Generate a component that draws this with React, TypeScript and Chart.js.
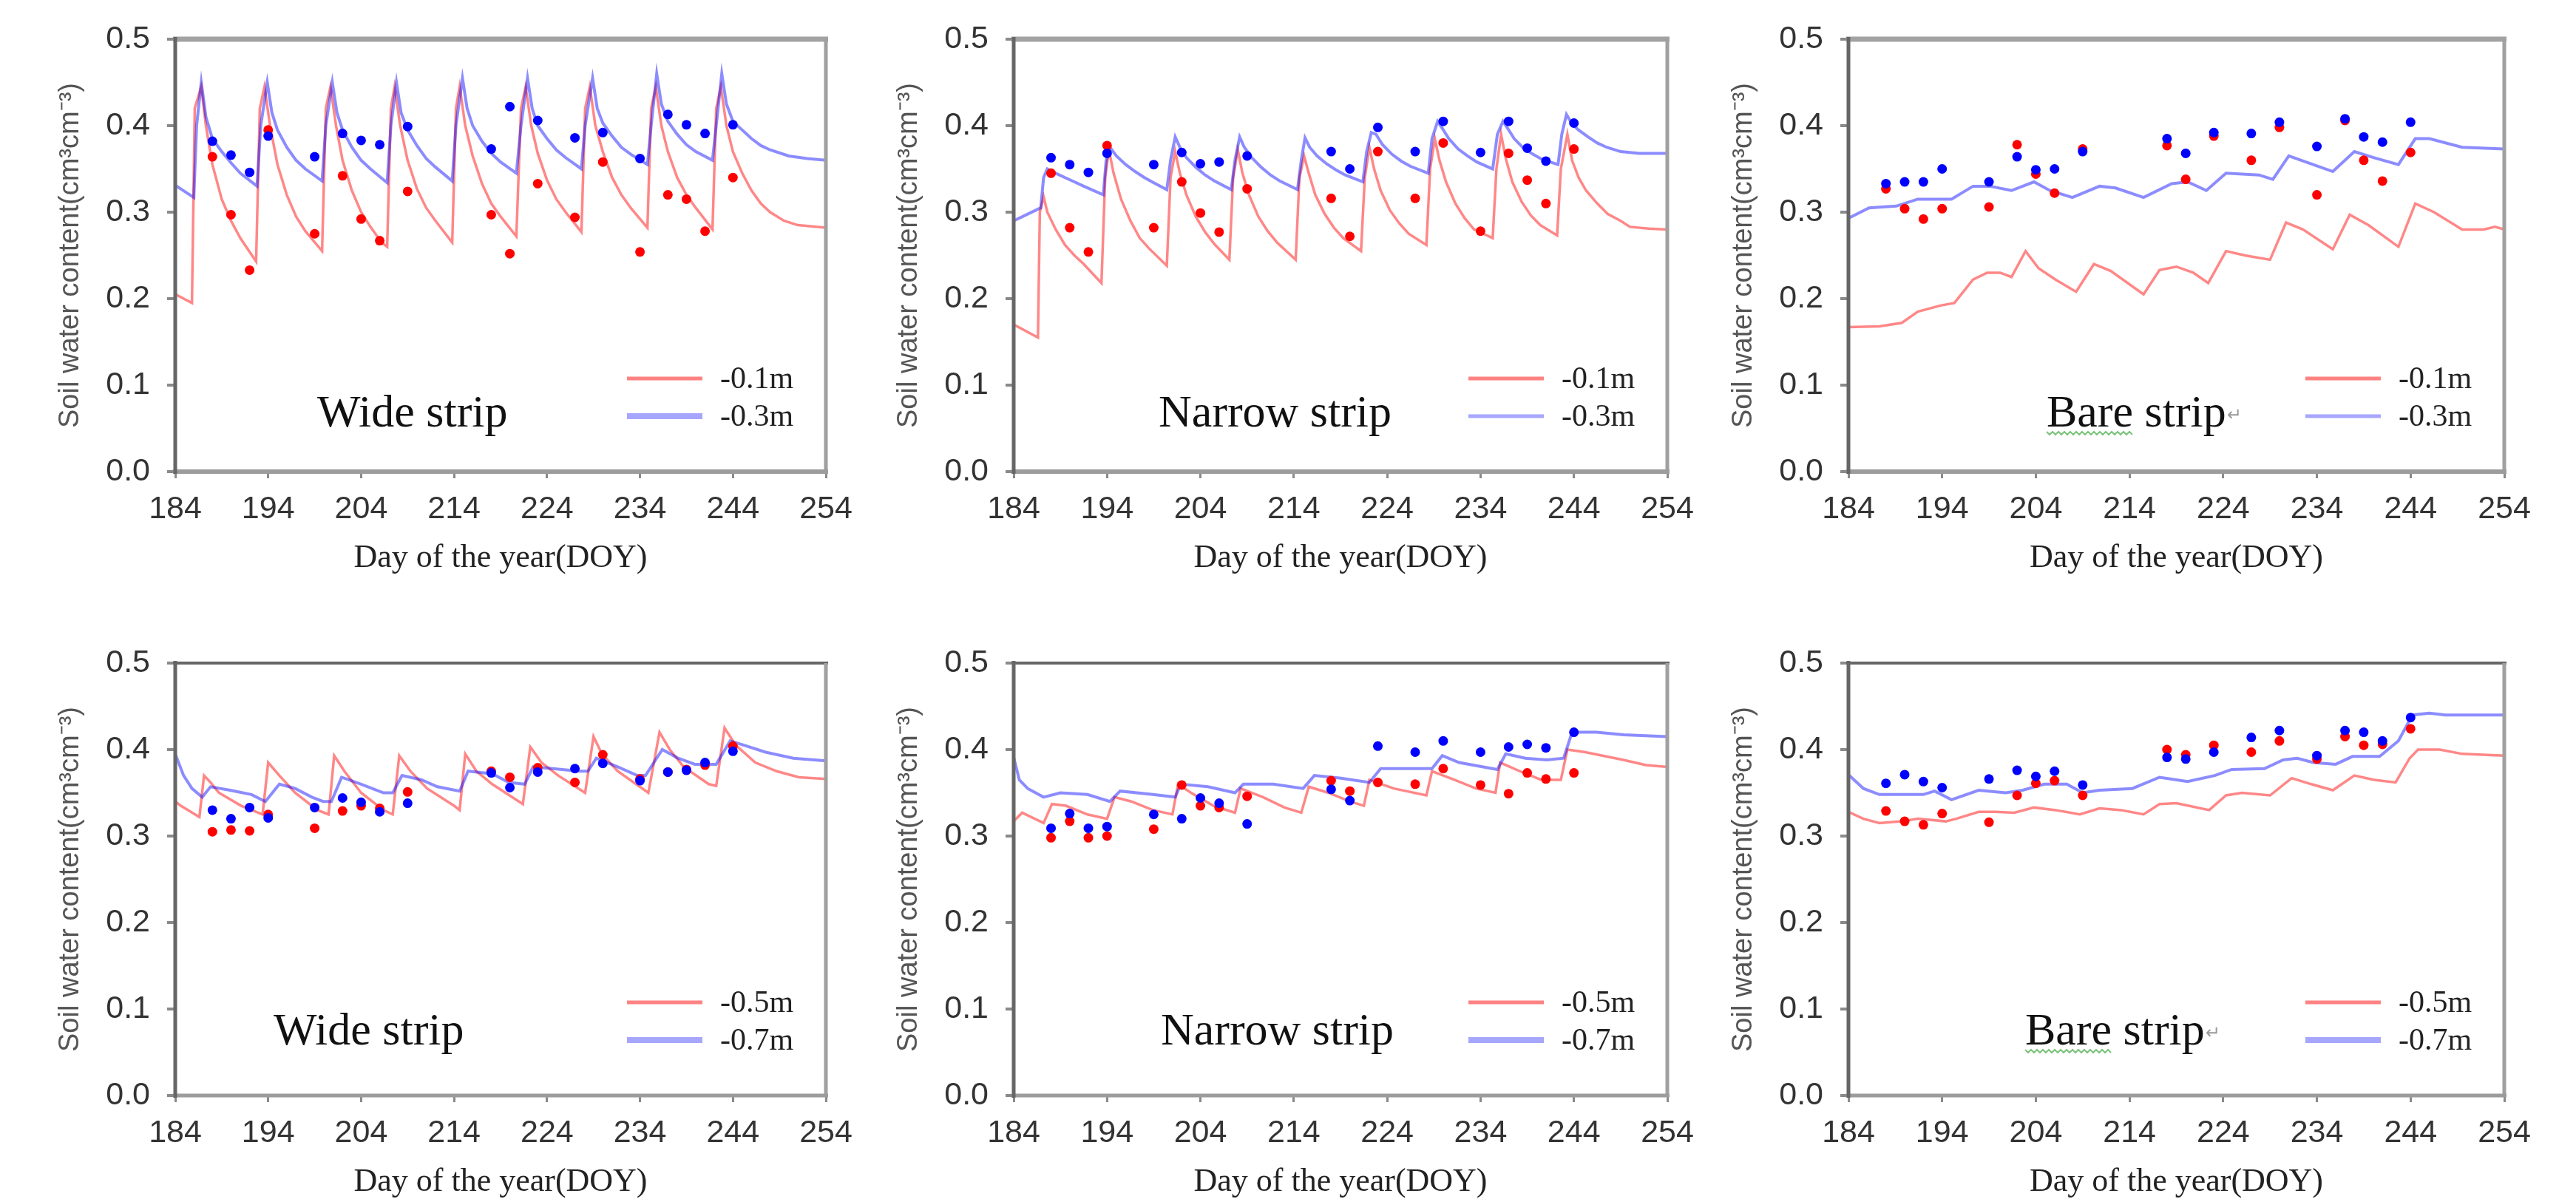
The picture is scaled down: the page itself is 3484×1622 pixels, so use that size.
import React, { useEffect, useRef } from 'react';
import { Chart, registerables } from 'chart.js';

Chart.register(...registerables);
Chart.defaults.font.family = '"Liberation Sans", Arial, sans-serif';

type Pair = [number, number];

// ---------- axis ticks ----------
const X_TICKS = [184, 194, 204, 214, 224, 234, 244, 254];
const Y_TICKS = [0, 0.1, 0.2, 0.3, 0.4, 0.5];

// ---------- observation days ----------
const OBS_DAYS = [188, 190, 192, 194, 199, 202, 204, 206, 209, 218, 220, 223, 227, 230, 234, 237, 239, 241, 244];

// ---------- Wide strip, -0.1 m / -0.3 m ----------
const wideSim01: Pair[] = [
  [184, 0.205], [185.8, 0.195], [186.1, 0.42], [186.8, 0.445], [187.3, 0.40], [188, 0.355], [189, 0.315], [190, 0.29], [191, 0.27], [192.7, 0.243],
  [193.1, 0.42], [193.6, 0.445], [194.2, 0.40], [195, 0.355], [196, 0.32], [197, 0.295], [198, 0.278], [199.8, 0.255],
  [200.2, 0.42], [200.7, 0.445], [201.3, 0.40], [202, 0.36], [203, 0.325], [204, 0.30], [205, 0.283], [206.2, 0.265], [206.8, 0.26],
  [207.2, 0.42], [207.6, 0.445], [208.2, 0.40], [209, 0.36], [210, 0.327], [211, 0.305], [212, 0.29], [213.8, 0.265],
  [214.2, 0.42], [214.6, 0.445], [215.2, 0.40], [216, 0.365], [217, 0.333], [218, 0.31], [219, 0.295], [220.7, 0.272],
  [221.2, 0.42], [221.7, 0.445], [222.3, 0.40], [223, 0.368], [224, 0.337], [225, 0.315], [226, 0.30], [227.7, 0.277],
  [228.1, 0.42], [228.6, 0.445], [229.2, 0.40], [230, 0.37], [231, 0.34], [232, 0.32], [233, 0.305], [234.8, 0.282],
  [235.2, 0.42], [235.7, 0.445], [236.3, 0.40], [237, 0.37], [238, 0.34], [239, 0.32], [240, 0.305], [241.8, 0.28],
  [242.2, 0.42], [242.7, 0.445], [243.3, 0.40], [244, 0.37], [245, 0.345], [246, 0.325], [247, 0.31], [248, 0.30], [249.5, 0.29], [251, 0.285], [254, 0.282],
];
const wideSim03: Pair[] = [
  [184, 0.331], [186, 0.317], [186.3, 0.40], [186.8, 0.45], [187.3, 0.41], [188, 0.385], [189, 0.37], [190, 0.357], [191, 0.345], [192.8, 0.33],
  [193.2, 0.40], [193.9, 0.45], [194.4, 0.415], [195, 0.395], [196, 0.375], [197, 0.36], [198, 0.35], [199.8, 0.336],
  [200.2, 0.40], [200.9, 0.45], [201.4, 0.415], [202, 0.395], [203, 0.375], [204, 0.36], [205, 0.35], [206.8, 0.334],
  [207.2, 0.40], [207.8, 0.45], [208.3, 0.415], [209, 0.395], [210, 0.377], [211, 0.362], [212, 0.352], [213.8, 0.336],
  [214.2, 0.40], [214.9, 0.455], [215.4, 0.42], [216, 0.40], [217, 0.382], [218, 0.368], [219, 0.358], [220.7, 0.345],
  [221.2, 0.40], [221.9, 0.455], [222.4, 0.42], [223, 0.40], [224, 0.385], [225, 0.372], [226, 0.363], [227.7, 0.35],
  [228.1, 0.40], [228.9, 0.455], [229.4, 0.42], [230, 0.403], [231, 0.388], [232, 0.375], [233, 0.367], [234.8, 0.355],
  [235.2, 0.40], [235.8, 0.46], [236.3, 0.425], [237, 0.405], [238, 0.39], [239, 0.378], [240, 0.37], [241.8, 0.36],
  [242.2, 0.40], [242.8, 0.46], [243.3, 0.425], [244, 0.405], [245, 0.395], [246, 0.385], [247, 0.377], [248, 0.372], [250, 0.365], [252, 0.362], [254, 0.36],
];
const wideObs01 = [0.364, 0.297, 0.233, 0.395, 0.275, 0.342, 0.292, 0.267, 0.324, 0.297, 0.252, 0.333, 0.294, 0.358, 0.254, 0.32, 0.315, 0.278, 0.34];
const wideObs03 = [0.382, 0.366, 0.346, 0.388, 0.364, 0.391, 0.383, 0.378, 0.399, 0.373, 0.422, 0.406, 0.386, 0.392, 0.362, 0.413, 0.401, 0.391, 0.401];

// ---------- Narrow strip, -0.1 m / -0.3 m ----------
const narrowSim01: Pair[] = [
  [184, 0.17], [186.6, 0.155], [186.8, 0.30], [187.2, 0.318], [187.6, 0.30], [188.5, 0.28], [189.5, 0.262], [190.5, 0.25], [191.5, 0.24], [193.4, 0.218],
  [193.8, 0.34], [194.2, 0.372], [194.7, 0.345], [195.5, 0.315], [196.5, 0.29], [197.5, 0.27], [198.5, 0.258], [200.4, 0.238],
  [200.8, 0.34], [201.3, 0.37], [201.8, 0.345], [202.5, 0.32], [203.5, 0.295], [204.5, 0.277], [205.5, 0.263], [207.1, 0.245],
  [207.5, 0.34], [208, 0.372], [208.5, 0.345], [209.2, 0.32], [210.2, 0.295], [211.2, 0.278], [212.2, 0.265], [214.2, 0.245],
  [214.6, 0.34], [215.1, 0.365], [215.6, 0.345], [216.3, 0.32], [217.3, 0.298], [218.3, 0.282], [219.3, 0.27], [221.2, 0.255],
  [221.6, 0.34], [222.1, 0.375], [222.6, 0.35], [223.3, 0.325], [224.3, 0.302], [225.3, 0.287], [226.3, 0.275], [228.2, 0.262],
  [228.6, 0.35], [229.1, 0.385], [229.6, 0.36], [230.3, 0.335], [231.3, 0.31], [232.3, 0.293], [233.3, 0.28], [235.3, 0.27],
  [235.7, 0.35], [236.2, 0.39], [236.7, 0.362], [237.4, 0.335], [238.4, 0.312], [239.4, 0.296], [240.4, 0.285], [242.2, 0.273],
  [242.6, 0.35], [243.3, 0.39], [243.8, 0.36], [244.5, 0.34], [245.3, 0.325], [246.5, 0.31], [247.6, 0.298], [249, 0.29], [250, 0.283], [252, 0.281], [254, 0.28],
];
const narrowSim03: Pair[] = [
  [184, 0.29], [186.9, 0.305], [187.2, 0.34], [187.6, 0.35], [188.5, 0.345], [189.5, 0.34], [190.5, 0.335], [191.5, 0.33], [193.6, 0.32],
  [193.9, 0.36], [194.3, 0.375], [195, 0.365], [196, 0.355], [197, 0.347], [198, 0.34], [199, 0.334], [200.4, 0.326],
  [200.8, 0.36], [201.3, 0.387], [201.8, 0.375], [202.5, 0.363], [203.5, 0.352], [204.5, 0.343], [205.5, 0.336], [207.3, 0.326],
  [207.7, 0.36], [208.2, 0.387], [208.7, 0.375], [209.5, 0.363], [210.5, 0.352], [211.5, 0.343], [212.5, 0.336], [214.4, 0.326],
  [214.8, 0.36], [215.2, 0.386], [215.7, 0.375], [216.5, 0.365], [217.5, 0.356], [218.5, 0.349], [219.5, 0.343], [221.4, 0.335],
  [221.8, 0.37], [222.3, 0.392], [222.8, 0.39], [223.5, 0.378], [224.5, 0.367], [225.5, 0.359], [226.5, 0.353], [228.4, 0.345],
  [228.8, 0.385], [229.4, 0.405], [229.9, 0.397], [230.6, 0.385], [231.6, 0.373], [232.6, 0.365], [233.6, 0.358], [235.3, 0.35],
  [235.8, 0.39], [236.4, 0.405], [236.9, 0.397], [237.6, 0.385], [238.6, 0.374], [239.6, 0.367], [240.6, 0.361], [242.3, 0.355],
  [242.7, 0.39], [243.2, 0.413], [243.8, 0.402], [244.5, 0.395], [245.5, 0.387], [246.5, 0.38], [247.5, 0.375], [249, 0.37], [251, 0.368], [254, 0.368],
];
const narrowObs01 = [0.345, 0.282, 0.254, 0.377, 0.282, 0.335, 0.299, 0.277, 0.327, 0.316, 0.272, 0.37, 0.316, 0.38, 0.278, 0.368, 0.337, 0.31, 0.373];
const narrowObs03 = [0.363, 0.355, 0.346, 0.368, 0.355, 0.369, 0.356, 0.358, 0.365, 0.37, 0.35, 0.398, 0.37, 0.405, 0.369, 0.405, 0.374, 0.359, 0.403];

// ---------- Bare strip, -0.1 m / -0.3 m ----------
const bareSim01: Pair[] = [
  [184, 0.167], [187.3, 0.168], [189.7, 0.172], [191.4, 0.185], [193.8, 0.192], [195.3, 0.195], [197.3, 0.222], [198.8, 0.23], [200.2, 0.23],
  [201.4, 0.225], [202.9, 0.255], [204.3, 0.235], [206.1, 0.222], [208.3, 0.208], [210.2, 0.24], [212, 0.232], [215.5, 0.205], [217.2, 0.233],
  [219, 0.237], [220.8, 0.23], [222.4, 0.218], [224.3, 0.255], [226.3, 0.25], [229, 0.245], [230.7, 0.288], [232.5, 0.28], [235.7, 0.257],
  [237.5, 0.297], [239.5, 0.285], [242.7, 0.26], [244.5, 0.31], [246.5, 0.30], [249.5, 0.28], [251.8, 0.28], [253, 0.283], [254, 0.28],
];
const bareSim03: Pair[] = [
  [184, 0.293], [186.2, 0.305], [189.1, 0.307], [191.4, 0.315], [195, 0.315], [197.3, 0.33], [199.1, 0.33], [201.4, 0.325], [203.8, 0.335],
  [205.5, 0.325], [207.9, 0.317], [210.8, 0.33], [212.5, 0.328], [215.5, 0.317], [218.5, 0.333], [220.2, 0.335], [222.2, 0.325], [224.3, 0.345],
  [227.8, 0.343], [229.3, 0.338], [231, 0.365], [233.1, 0.357], [235.7, 0.347], [238, 0.37], [240.1, 0.363], [242.7, 0.355], [244.5, 0.385],
  [246, 0.385], [249.5, 0.375], [254, 0.373],
];
const bareObs01 = [0.327, 0.304, 0.292, 0.304, 0.306, 0.378, 0.344, 0.322, 0.373, 0.377, 0.338, 0.388, 0.36, 0.398, 0.32, 0.406, 0.36, 0.336, 0.369];
const bareObs03 = [0.333, 0.335, 0.335, 0.35, 0.335, 0.364, 0.349, 0.35, 0.37, 0.385, 0.368, 0.392, 0.391, 0.404, 0.376, 0.408, 0.387, 0.381, 0.404];

// ---------- Wide strip, -0.5 m / -0.7 m ----------
const wideSim05: Pair[] = [
  [184, 0.34], [184.6, 0.335], [186.6, 0.322], [187.1, 0.37], [187.8, 0.362], [188.7, 0.35], [191.1, 0.335], [193.4, 0.325], [194, 0.385],
  [195.2, 0.37], [196.9, 0.35], [199.3, 0.33], [200.5, 0.325], [201.1, 0.393], [202.2, 0.375], [204, 0.35], [206.4, 0.33], [207.4, 0.325],
  [208.1, 0.393], [209.3, 0.375], [211.1, 0.355], [214, 0.335], [214.6, 0.33], [215.2, 0.395], [216.4, 0.375], [218.1, 0.36], [221.4, 0.337],
  [222.2, 0.403], [223.4, 0.385], [225.2, 0.37], [228.1, 0.35], [229, 0.415], [229.9, 0.395], [231.6, 0.375], [234.9, 0.35], [236.1, 0.42],
  [237.2, 0.40], [238.7, 0.38], [241.4, 0.36], [242.2, 0.358], [243.1, 0.425], [244.3, 0.405], [246.4, 0.385], [248.7, 0.375], [251.1, 0.368], [254, 0.366],
];
const wideSim07: Pair[] = [
  [184, 0.395], [184.9, 0.37], [185.8, 0.355], [186.9, 0.345], [187.8, 0.357], [189.9, 0.353], [192.2, 0.348], [193.7, 0.34], [195.2, 0.36],
  [196.9, 0.355], [198.7, 0.345], [199.9, 0.34], [200.8, 0.34], [201.9, 0.368], [204, 0.36], [206.4, 0.35], [207.4, 0.35], [208.4, 0.37],
  [210.5, 0.365], [212.2, 0.357], [214.6, 0.352], [215.5, 0.375], [218.1, 0.372], [219.9, 0.362], [221.6, 0.36], [222.5, 0.38], [224.6, 0.378],
  [227.5, 0.375], [228.4, 0.375], [229.3, 0.39], [231.6, 0.38], [233.7, 0.37], [234.6, 0.37], [236.4, 0.40], [238.1, 0.39], [239.9, 0.383],
  [242.2, 0.383], [243.7, 0.41], [245.2, 0.405], [247.5, 0.397], [250.5, 0.39], [254, 0.387],
];
const wideObs05 = [0.305, 0.307, 0.306, 0.325, 0.309, 0.329, 0.335, 0.332, 0.351, 0.375, 0.368, 0.379, 0.362, 0.394, 0.366, 0.374, 0.377, 0.382, 0.404];
const wideObs07 = [0.33, 0.32, 0.333, 0.321, 0.333, 0.344, 0.339, 0.328, 0.338, 0.373, 0.356, 0.374, 0.378, 0.384, 0.364, 0.374, 0.376, 0.385, 0.398];

// ---------- Narrow strip, -0.5 m / -0.7 m ----------
const narrowSim05: Pair[] = [
  [184, 0.317], [184.9, 0.327], [187.2, 0.315], [188.1, 0.337], [189.6, 0.335], [191.9, 0.325], [194, 0.32], [194.8, 0.345], [196.6, 0.34],
  [198.9, 0.33], [201, 0.325], [201.6, 0.36], [203, 0.35], [205.4, 0.335], [207.7, 0.327], [208.3, 0.355], [210.7, 0.345], [213, 0.333],
  [214.8, 0.327], [215.6, 0.357], [217.7, 0.35], [220, 0.34], [221.5, 0.335], [222.1, 0.365], [224.7, 0.355], [228.2, 0.347], [228.8, 0.375],
  [231.2, 0.365], [233.5, 0.355], [235.6, 0.35], [236.1, 0.385], [238.2, 0.375], [240.5, 0.365], [242.6, 0.365], [243.3, 0.40], [245.2, 0.397],
  [249.3, 0.388], [251.7, 0.382], [254, 0.38],
];
const narrowSim07: Pair[] = [
  [184, 0.391], [184.6, 0.365], [185.5, 0.355], [187.2, 0.345], [189, 0.35], [191.9, 0.348], [194.3, 0.34], [195.4, 0.352], [198.9, 0.348],
  [201.3, 0.345], [201.9, 0.36], [204.8, 0.357], [207.7, 0.35], [208.6, 0.36], [211.8, 0.36], [215, 0.355], [216.2, 0.37], [218.9, 0.367],
  [222.1, 0.362], [223.3, 0.378], [225.9, 0.378], [228.8, 0.378], [229.9, 0.393], [231.7, 0.385], [235.8, 0.377], [236.7, 0.395], [238.8, 0.39],
  [241.1, 0.388], [242.9, 0.39], [243.8, 0.42], [246.4, 0.42], [249.3, 0.417], [254, 0.415],
];
const narrowObs05 = [0.298, 0.317, 0.298, 0.3, 0.308, 0.359, 0.335, 0.333, 0.346, 0.364, 0.352, 0.362, 0.36, 0.378, 0.359, 0.349, 0.373, 0.366, 0.373];
const narrowObs07 = [0.309, 0.326, 0.309, 0.311, 0.325, 0.32, 0.344, 0.338, 0.314, 0.354, 0.341, 0.404, 0.397, 0.41, 0.397, 0.403, 0.406, 0.402, 0.42];

// ---------- Bare strip, -0.5 m / -0.7 m ----------
const bareSim05: Pair[] = [
  [184, 0.328], [185.6, 0.32], [187.3, 0.315], [189.7, 0.317], [191.4, 0.32], [194.4, 0.317], [195.5, 0.32], [197.9, 0.328], [199.7, 0.328],
  [201.7, 0.327], [203.8, 0.333], [206.1, 0.33], [208.7, 0.325], [210.8, 0.332], [213.1, 0.33], [215.5, 0.325], [217.2, 0.337], [219, 0.338],
  [222.5, 0.33], [224.3, 0.347], [226, 0.35], [229, 0.347], [231.3, 0.367], [233.4, 0.36], [235.7, 0.353], [238, 0.37], [240.1, 0.365],
  [242.4, 0.362], [243.9, 0.39], [244.8, 0.40], [247.1, 0.40], [249.5, 0.395], [254, 0.393],
];
const bareSim07: Pair[] = [
  [184, 0.371], [185.6, 0.355], [187.3, 0.348], [192, 0.348], [193.2, 0.352], [195, 0.342], [197.9, 0.353], [200.8, 0.35], [202.6, 0.353],
  [204.9, 0.36], [207.3, 0.36], [209, 0.35], [210.8, 0.353], [214.3, 0.355], [217.2, 0.368], [220.2, 0.363], [223.1, 0.37], [224.9, 0.377],
  [228.4, 0.378], [230.4, 0.388], [231.9, 0.39], [233.6, 0.385], [236, 0.383], [237.8, 0.392], [240.7, 0.392], [242.7, 0.41], [244.2, 0.44],
  [246, 0.442], [247.7, 0.44], [254, 0.44],
];
const bareObs05 = [0.329, 0.317, 0.313, 0.326, 0.316, 0.347, 0.361, 0.364, 0.347, 0.40, 0.394, 0.405, 0.397, 0.41, 0.389, 0.415, 0.405, 0.406, 0.424];
const bareObs07 = [0.361, 0.371, 0.363, 0.356, 0.366, 0.376, 0.369, 0.375, 0.359, 0.391, 0.389, 0.397, 0.414, 0.422, 0.393, 0.422, 0.42, 0.41, 0.437];

// ---------- panel contents ----------
const PANEL_NAMES = ['Wide strip', 'Narrow strip', 'Bare strip', 'Wide strip', 'Narrow strip', 'Bare strip'];
const SHALLOW_DEPTHS = ['-0.1m', '-0.1m', '-0.1m', '-0.5m', '-0.5m', '-0.5m'];
const DEEP_DEPTHS = ['-0.3m', '-0.3m', '-0.3m', '-0.7m', '-0.7m', '-0.7m'];
const SHALLOW_SIM = [wideSim01, narrowSim01, bareSim01, wideSim05, narrowSim05, bareSim05];
const DEEP_SIM = [wideSim03, narrowSim03, bareSim03, wideSim07, narrowSim07, bareSim07];
const SHALLOW_OBS = [wideObs01, narrowObs01, bareObs01, wideObs05, narrowObs05, bareObs05];
const DEEP_OBS = [wideObs03, narrowObs03, bareObs03, wideObs07, narrowObs07, bareObs07];

// ---------- layout (pixels) ----------
const COL_PLOT_LEFT = [237, 1371, 2500];
const COL_PLOT_WIDTH = [880, 884, 887];
const ROW_PLOT_TOP = [53, 897];
const PLOT_HEIGHT = 585;
const AXIS_W = 237;
const TOP_PAD = 53;
const CANVAS_H = 778;
const LABEL_OFFSET = [192, 196, 268, 133, 199, 239];
const LABEL_BASELINE = [61, 61, 61, 69, 69, 69];
const LEGEND_BLUE_W = [8, 5, 5, 8, 8, 8];

const RED_LINE = 'rgba(255,0,0,0.47)';
const BLUE_LINE = 'rgba(0,0,255,0.45)';

const framePlugin = {
  id: 'frame',
  afterDraw(chart: any, _args: any, opts: any) {
    const { ctx, chartArea: a } = chart;
    ctx.save();
    ctx.lineCap = 'butt';
    const line = (x1: number, y1: number, x2: number, y2: number, c: string, w: number) => {
      ctx.strokeStyle = c;
      ctx.lineWidth = w;
      ctx.beginPath();
      ctx.moveTo(x1, y1);
      ctx.lineTo(x2, y2);
      ctx.stroke();
    };
    if (opts.row === 0) {
      line(a.left - 3, a.top, a.right + 3, a.top, '#a2a2a2', 7);
    } else {
      line(a.left - 3, a.top, a.right + 3, a.top, '#666666', 4);
    }
    line(a.right, a.top, a.right, a.bottom, '#a0a0a0', 5);
    line(a.left - 3, a.bottom, a.right + 3, a.bottom, '#9c9c9c', opts.row === 0 ? 6 : 5);
    line(a.left, a.top - 3, a.left, a.bottom + 3, '#666666', 5);
    ctx.restore();
  },
};

const decorPlugin = {
  id: 'decor',
  afterDraw(chart: any, _args: any, opts: any) {
    const { ctx, chartArea: a } = chart;
    ctx.save();
    // strip name
    ctx.font = '62px "Liberation Serif", "Times New Roman", serif';
    ctx.fillStyle = '#111';
    ctx.textAlign = 'left';
    ctx.textBaseline = 'alphabetic';
    const lx = a.left + opts.labelOffset;
    const ly = a.bottom - opts.labelBaseline;
    ctx.fillText(opts.name, lx, ly);
    if (opts.name.startsWith('Bare')) {
      const full = ctx.measureText(opts.name).width;
      const wb = ctx.measureText('Bare').width;
      ctx.strokeStyle = '#7cc47c';
      ctx.lineWidth = 2;
      ctx.beginPath();
      let up = true;
      for (let x = lx; x <= lx + wb; x += 4) {
        const yy = ly + (up ? 7 : 11);
        if (x === lx) ctx.moveTo(x, yy);
        else ctx.lineTo(x, yy);
        up = !up;
      }
      ctx.stroke();
      ctx.font = '24px "DejaVu Sans", sans-serif';
      ctx.fillStyle = '#9a9a9a';
      ctx.fillText('\u21B5', lx + full + 1, ly - 8);
    }
    // legend
    const rows = [
      { y: a.bottom - 126, color: '#ff8282', w: 5, text: opts.shallow },
      { y: a.bottom - 75, color: '#a6a6ff', w: opts.blueW, text: opts.deep },
    ];
    ctx.font = '42px "Liberation Serif", "Times New Roman", serif';
    ctx.textBaseline = 'middle';
    for (const r of rows) {
      ctx.strokeStyle = r.color;
      ctx.lineWidth = r.w;
      ctx.beginPath();
      ctx.moveTo(a.right - 269, r.y);
      ctx.lineTo(a.right - 167, r.y);
      ctx.stroke();
      ctx.fillStyle = '#222';
      ctx.fillText(r.text, a.right - 143, r.y + 2);
    }
    ctx.restore();
  },
};

function Panel({ idx }: { idx: number }) {
  const ref = useRef<HTMLCanvasElement>(null);
  const col = idx % 3;
  const row = Math.floor(idx / 3);
  const plotW = COL_PLOT_WIDTH[col];
  const left = COL_PLOT_LEFT[col] - AXIS_W;
  const top = ROW_PLOT_TOP[row] - TOP_PAD;
  const width = Math.min(AXIS_W + plotW + 70, 3484 - left);
  const rightPad = width - AXIS_W - plotW;

  useEffect(() => {
    const toPts = (arr: Pair[]) => arr.map(([x, y]) => ({ x, y }));
    const obsPts = (vals: number[]) => OBS_DAYS.map((d, i) => ({ x: d, y: vals[i] }));
    const chart = new Chart(ref.current as HTMLCanvasElement, {
      type: 'scatter',
      data: {
        datasets: [
          {
            label: DEEP_DEPTHS[idx] + ' observed',
            data: obsPts(DEEP_OBS[idx]),
            backgroundColor: '#0000ff',
            borderColor: '#0000ff',
            borderWidth: 0,
            pointRadius: 6.5,
            showLine: false,
          },
          {
            label: SHALLOW_DEPTHS[idx] + ' observed',
            data: obsPts(SHALLOW_OBS[idx]),
            backgroundColor: '#ff0000',
            borderColor: '#ff0000',
            borderWidth: 0,
            pointRadius: 6.5,
            showLine: false,
          },
          {
            label: DEEP_DEPTHS[idx],
            data: toPts(DEEP_SIM[idx]),
            borderColor: BLUE_LINE,
            backgroundColor: BLUE_LINE,
            borderWidth: 4,
            pointRadius: 0,
            showLine: true,
            tension: 0,
            fill: false,
          },
          {
            label: SHALLOW_DEPTHS[idx],
            data: toPts(SHALLOW_SIM[idx]),
            borderColor: RED_LINE,
            backgroundColor: RED_LINE,
            borderWidth: 3.5,
            pointRadius: 0,
            showLine: true,
            tension: 0,
            fill: false,
          },
        ],
      },
      options: {
        animation: false,
        responsive: false,
        maintainAspectRatio: false,
        layout: { padding: { left: 0, top: TOP_PAD, right: rightPad, bottom: 0 } },
        plugins: {
          legend: { display: false },
          tooltip: { enabled: false },
          frame: { row },
          decor: {
            name: PANEL_NAMES[idx],
            labelOffset: LABEL_OFFSET[idx],
            labelBaseline: LABEL_BASELINE[idx],
            shallow: SHALLOW_DEPTHS[idx],
            deep: DEEP_DEPTHS[idx],
            blueW: LEGEND_BLUE_W[idx],
          },
        } as any,
        scales: {
          x: {
            type: 'linear',
            min: X_TICKS[0],
            max: X_TICKS[X_TICKS.length - 1],
            afterBuildTicks: (s: any) => {
              s.ticks = X_TICKS.map((v) => ({ value: v }));
            },
            afterFit: (s: any) => {
              s.height = CANVAS_H - TOP_PAD - PLOT_HEIGHT;
            },
            grid: { drawOnChartArea: false, drawTicks: true, tickLength: 9, color: '#8a8a8a', lineWidth: 3 },
            border: { display: false },
            ticks: {
              font: { size: 43, family: '"Liberation Sans", Arial, sans-serif' },
              color: '#333',
              padding: 16,
              maxRotation: 0,
              autoSkip: false,
              callback: (v: any) => String(v),
            },
            title: {
              display: true,
              text: 'Day of the year(DOY)',
              font: { family: '"Liberation Serif", "Times New Roman", serif', size: 44, lineHeight: 1 },
              color: '#222',
              padding: { top: 0, bottom: 1 },
            },
          },
          y: {
            type: 'linear',
            min: Y_TICKS[0],
            max: Y_TICKS[Y_TICKS.length - 1],
            afterBuildTicks: (s: any) => {
              s.ticks = Y_TICKS.map((v) => ({ value: v }));
            },
            afterFit: (s: any) => {
              s.width = AXIS_W;
            },
            grid: { drawOnChartArea: false, drawTicks: true, tickLength: 11, color: '#8a8a8a', lineWidth: 4 },
            border: { display: false },
            ticks: {
              font: { size: 43, family: '"Liberation Sans", Arial, sans-serif' },
              color: '#333',
              padding: 23,
              autoSkip: false,
              callback: (v: any) => Number(v).toFixed(1),
            },
            title: {
              display: true,
              text: 'Soil water content(cm\u00B3cm\u207B\u00B3)',
              font: { family: '"Liberation Sans", Arial, sans-serif', size: 38, lineHeight: 1 },
              color: '#555',
              padding: { top: 77, bottom: 0 },
            },
          },
        },
      },
      plugins: [framePlugin, decorPlugin],
    } as any);
    return () => chart.destroy();
  }, [idx]);

  return (
    <canvas
      ref={ref}
      width={width}
      height={CANVAS_H}
      style={{ position: 'absolute', left, top, width, height: CANVAS_H }}
    />
  );
}

export default function App() {
  return (
    <div
      style={{
        position: 'absolute',
        left: 0,
        top: 0,
        width: 3484,
        height: 1622,
        background: '#ffffff',
        overflow: 'hidden',
      }}
    >
      {[0, 1, 2, 3, 4, 5].map((i) => (
        <Panel key={i} idx={i} />
      ))}
    </div>
  );
}
